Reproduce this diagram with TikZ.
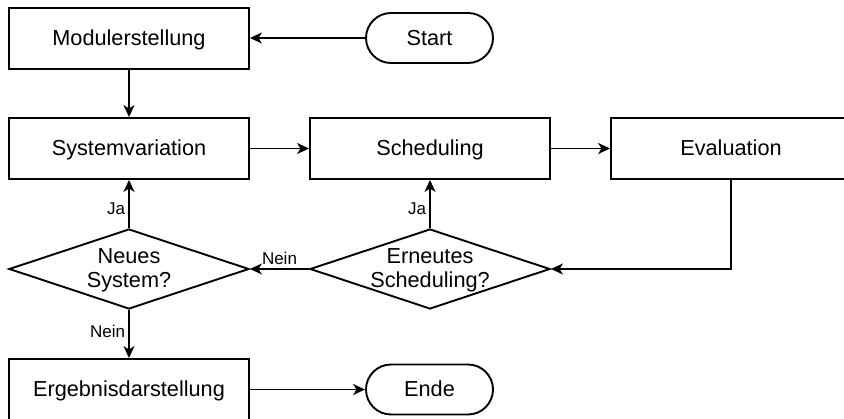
\documentclass[tikz,border=0pt]{standalone}
\usepackage{fontspec}
\setmainfont{Liberation Sans}
\usetikzlibrary{arrows.meta,shapes.geometric}
\begin{document}
\begin{tikzpicture}[x=1pt,y=-1pt,
  every node/.style={font=\fontsize{21.7}{24}\selectfont},
  procbox/.style={draw, line width=1.9pt, minimum width=240pt, minimum height=61pt, inner sep=0pt, text height=16.5pt, text depth=1.5pt},
  termbox/.style={draw, line width=1.9pt, minimum width=127pt, minimum height=50pt, rounded corners=25pt, inner sep=0pt, text height=16.5pt, text depth=1.5pt},
  decbox/.style={draw, diamond, line width=1.9pt, minimum width=240pt, minimum height=80pt, inner sep=0pt, aspect=3},
  dectext/.style={align=center, inner sep=0pt},
  arr/.style={draw, line width=1.9pt, -{Stealth[length=12pt,width=11pt,inset=3.5pt]}},
  lbl/.style={font=\fontsize{17}{20}\selectfont, inner sep=2pt}
]
\useasboundingbox (0,0) rectangle (844,419);
\clip (0,0) rectangle (844,419);

\node[procbox] (mod) at (129,38.5) {Modulerstellung};
\node[termbox] (start) at (429.5,38) {Start};
\node[procbox] (sys) at (129,148.5) {Systemvariation};
\node[procbox] (sched) at (430,148.5) {Scheduling};
\node[procbox] (eval) at (731,148.5) {Evaluation};
\node[decbox] (neu) at (129,269) {};
\node[dectext] (neut) at (129,270.5) {Neues\\System?};
\node[decbox] (ern) at (430,269) {};
\node[dectext] (ernt) at (430,270.5) {Erneutes\\Scheduling?};
\node[procbox] (erg) at (129,389.5) {Ergebnisdarstellung};
\node[termbox] (ende) at (429.5,389.5) {Ende};

\draw[arr] (start.west) -- (start.west -| mod.east);
\draw[arr] (mod.south) -- (sys.north);
\draw[arr] (sys.east) -- (sched.west);
\draw[arr] (sched.east) -- (eval.west);
\draw[arr] (eval.south) |- (ern.east);
\draw[arr] (ern.west) -- node[lbl, above=1pt] (l1) {Nein} (neu.east);
\draw[arr] (neu.north) -- node[lbl, pos=0.4, left=1pt] (l2) {Ja} (sys.south);
\draw[arr] (ern.north) -- node[lbl, pos=0.4, left=1pt] (l3) {Ja} (sched.south);
\draw[arr] (neu.south) -- node[lbl, pos=0.45, left=1pt] (l4) {Nein} (erg.north);
\draw[arr] (erg.east) -- (ende.west);
\end{tikzpicture}
\end{document}
